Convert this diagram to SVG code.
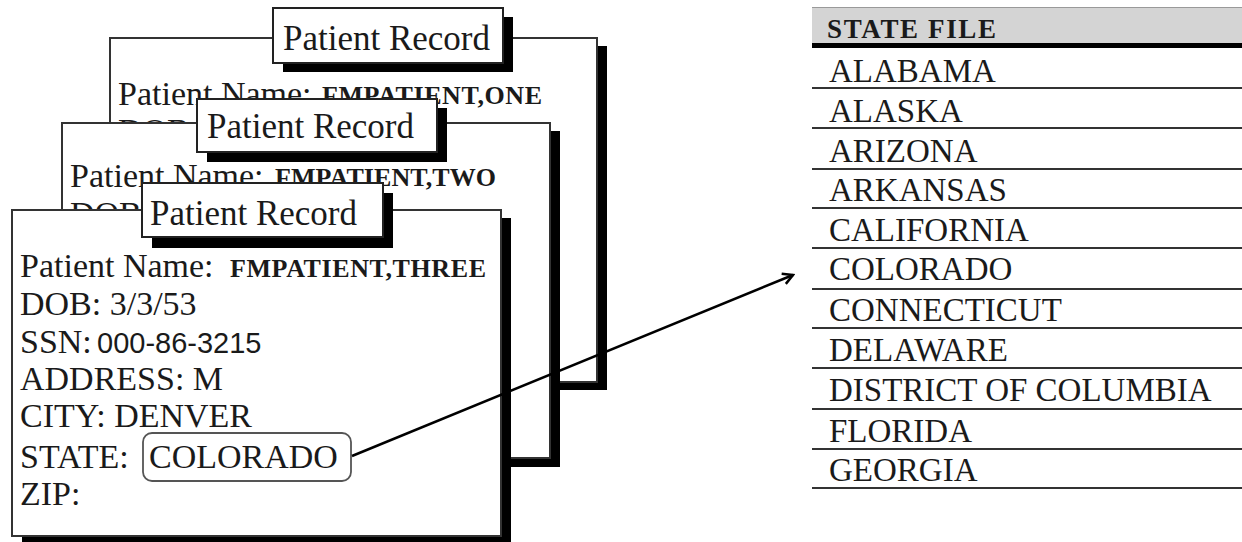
<svg xmlns="http://www.w3.org/2000/svg" width="1242" height="542" viewBox="0 0 1242 542">
<defs>
<style>
.card{fill:#fff;stroke:#333;stroke-width:2}
.shadow{fill:#000}
.title{fill:#fff;stroke:#222;stroke-width:2}
.t{font-family:"Liberation Serif","Times New Roman",serif;font-size:34px;fill:#1a1a1a}
.tt{font-family:"Liberation Serif","Times New Roman",serif;font-size:35px;fill:#1a1a1a}
.m{font-family:"Liberation Serif","Times New Roman",serif;font-size:26px;font-weight:bold;fill:#1a1a1a}
.h{font-family:"Liberation Serif","Times New Roman",serif;font-size:27px;font-weight:bold;fill:#1a1a1a}
.d{font-family:"Liberation Sans",Arial,sans-serif;font-size:29px;fill:#1a1a1a}
.s{font-family:"Liberation Serif","Times New Roman",serif;font-size:33px;fill:#1a1a1a}
.row{stroke:#333;stroke-width:2}
.conn{stroke:#000;stroke-width:2.5;fill:none}
</style>
<marker id="arr" viewBox="0 0 14 14" refX="12" refY="7" markerWidth="14" markerHeight="14" markerUnits="userSpaceOnUse" orient="auto">
<path d="M2,1.5 L12,7 L2,12.5" fill="none" stroke="#000" stroke-width="2.5"/>
</marker>
</defs>
<rect width="1242" height="542" fill="#fff"/>

<g id="record-one">
<rect class="shadow" x="120" y="46" width="487" height="344"/>
<rect class="card" x="110" y="38" width="487" height="344"/>
<text class="t" x="118" y="105">Patient Name:</text>
<text class="m" x="322" y="104" textLength="220" lengthAdjust="spacing">FMPATIENT,ONE</text>
<text class="t" x="118" y="142">DOB:</text>
</g>
<g id="title-one">
<rect class="shadow" x="283" y="17" width="230" height="55"/>
<rect class="title" x="273" y="8" width="230" height="55"/>
<text class="tt" x="283" y="50">Patient Record</text>
</g>

<g id="record-two">
<rect class="shadow" x="72" y="131" width="488" height="336"/>
<rect class="card" x="62" y="123" width="488" height="335"/>
<text class="t" x="70" y="187">Patient Name:</text>
<text class="m" x="275" y="186" textLength="221" lengthAdjust="spacing">FMPATIENT,TWO</text>
<text class="t" x="70" y="225">DOB:</text>
</g>
<g id="title-two">
<rect class="shadow" x="207" y="108" width="240" height="54"/>
<rect class="title" x="197" y="99" width="240" height="53"/>
<text class="tt" x="207" y="138">Patient Record</text>
</g>

<g id="record-three">
<rect class="shadow" x="22" y="218" width="489" height="330"/>
<rect class="card" x="12" y="210" width="489" height="326"/>
<text class="t" x="20" y="277">Patient Name:</text>
<text class="m" x="230" y="277" textLength="256" lengthAdjust="spacing">FMPATIENT,THREE</text>
<text class="t" x="20" y="315">DOB: 3/3/53</text>
<text class="t" x="20" y="353">SSN:</text>
<text class="d" x="97" y="353">000-86-3215</text>
<text class="t" x="20" y="390">ADDRESS: M</text>
<text class="t" x="20" y="427">CITY: DENVER</text>
<text class="t" x="20" y="468">STATE:</text>
<text class="t" x="20" y="505">ZIP:</text>
</g>
<g id="state-field">
<rect x="143" y="433" width="208" height="48" rx="9" ry="9" fill="#fff" stroke="#555" stroke-width="1.8"/>
<text class="t" x="149" y="468">COLORADO</text>
</g>
<g id="title-three">
<rect class="shadow" x="152" y="193" width="241" height="55"/>
<rect class="title" x="142" y="183" width="241" height="54"/>
<text class="tt" x="150" y="225">Patient Record</text>
</g>

<g id="state-file">
<rect x="812" y="7" width="430" height="37" fill="#d4d4d4"/>
<line x1="812" y1="7.5" x2="1242" y2="7.5" stroke="#999" stroke-width="1"/>
<rect x="812" y="43" width="430" height="5" fill="#000"/>
<text class="h" x="827" y="38" textLength="169" lengthAdjust="spacing">STATE FILE</text>
<text class="s" x="829" y="82">ALABAMA</text>
<line class="row" x1="812" y1="88" x2="1242" y2="88"/>
<text class="s" x="829" y="122">ALASKA</text>
<line class="row" x1="812" y1="128" x2="1242" y2="128"/>
<text class="s" x="829" y="162">ARIZONA</text>
<line class="row" x1="812" y1="169" x2="1242" y2="169"/>
<text class="s" x="829" y="201">ARKANSAS</text>
<line class="row" x1="812" y1="208" x2="1242" y2="208"/>
<text class="s" x="829" y="241">CALIFORNIA</text>
<line class="row" x1="812" y1="248" x2="1242" y2="248"/>
<text class="s" x="829" y="280">COLORADO</text>
<line class="row" x1="812" y1="289" x2="1242" y2="289"/>
<text class="s" x="829" y="321">CONNECTICUT</text>
<line class="row" x1="812" y1="328" x2="1242" y2="328"/>
<text class="s" x="829" y="361">DELAWARE</text>
<line class="row" x1="812" y1="368" x2="1242" y2="368"/>
<text class="s" x="829" y="401">DISTRICT OF COLUMBIA</text>
<line class="row" x1="812" y1="409" x2="1242" y2="409"/>
<text class="s" x="829" y="442">FLORIDA</text>
<line class="row" x1="812" y1="449" x2="1242" y2="449"/>
<text class="s" x="829" y="481">GEORGIA</text>
<line class="row" x1="812" y1="488" x2="1242" y2="488"/>
</g>

<g id="connectors">
<line class="conn" x1="352" y1="456" x2="793" y2="275" marker-end="url(#arr)"/>
</g>
</svg>
